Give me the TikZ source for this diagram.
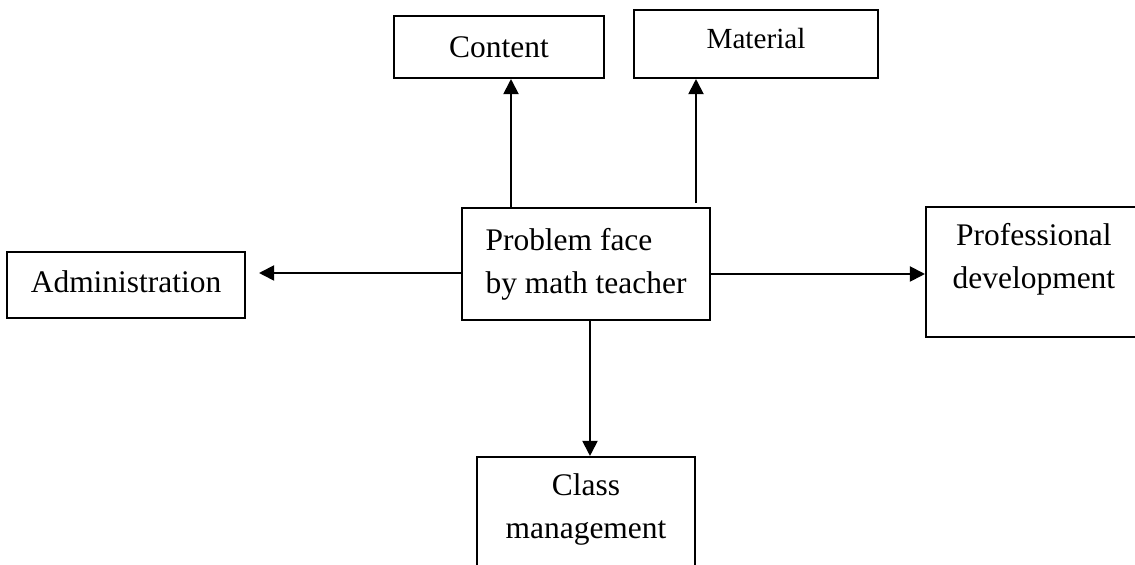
\documentclass[tikz,border=0pt]{standalone}
\usepackage{fontspec}
\setmainfont{Liberation Serif}
\usepackage{tikz}
\usetikzlibrary{positioning,arrows.meta}

\tikzset{
	blk/.style={draw,
		line width=1.1pt,
		inner sep=0pt,
		align=center,
		font=\fontsize{17.9}{24.5}\selectfont},
	tallblk/.style={blk,
		text height=1.64cm,
		text depth=0.96cm},
	arr/.style={-{Triangle[length=0.3cm,width=0.3cm]},
		line width=1.1pt}
}

\begin{document}
\begin{tikzpicture}
			\useasboundingbox (-11.72,-6.02) rectangle (10.98,5.28);
			\clip (-11.72,-6.02) rectangle (10.98,5.28);

			% Problem
			\node [blk,
				align=left,
				minimum width=4.96cm,
				minimum height=2.24cm
				] (pb) at (0,0) {Problem face\\by math teacher};

			% Content
			\node [blk,
				minimum width=4.2cm,
				minimum height=1.24cm,
				above=2.56cm of pb,
				xshift=-1.74cm
				] (cont) {Content};

			% Material
			\node [blk,
				font=\fontsize{16.6}{22}\selectfont,
				text depth=0.24cm,
				minimum width=4.88cm,
				minimum height=1.36cm,
				above=2.56cm of pb,
				xshift=3.4cm
				] (mat) {Material};

			% Administration
			\node [blk,
				text depth=0.14cm,
				minimum width=4.76cm,
				minimum height=1.32cm,
				left=4.3cm of pb,
				yshift=-0.42cm
				] (adm) {Administration};

			% Professional development
			\node [tallblk,
				minimum width=4.32cm,
				minimum height=2.6cm,
				right=4.28cm of pb,
				yshift=-0.16cm
				] (pd) {Professional\\development};

			% Class management
			\node [tallblk,
				minimum width=4.36cm,
				minimum height=2.6cm,
				below=2.7cm of pb
				] (cm) {Class\\management};

			% Arrows
			\draw[arr] ([xshift=-1.5cm]pb.north) -- ([xshift=0.24cm]cont.south);
			\draw[arr] ([xshift=2.2cm,yshift=0.08cm]pb.north) -- ([xshift=-1.2cm]mat.south);
			\draw[arr] ([yshift=-0.18cm]pb.west) -- ([xshift=0.26cm,yshift=0.24cm]adm.east);
			\draw[arr] ([yshift=-0.2cm]pb.east) -- ([yshift=-0.04cm]pd.west);
			\draw[arr] ([xshift=0.08cm]pb.south) -- ([xshift=0.08cm]cm.north);

		\end{tikzpicture}
\end{document}
